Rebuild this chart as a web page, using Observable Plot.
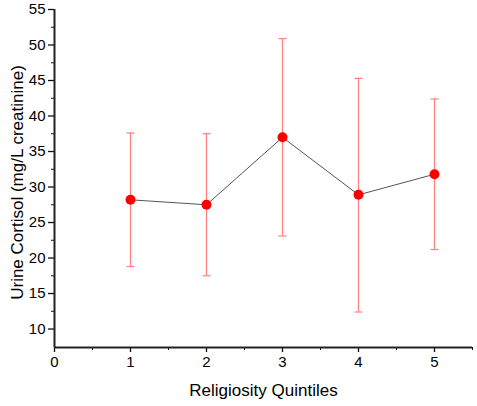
<!DOCTYPE html>
<html>
<head>
<meta charset="utf-8">
<script src="https://cdn.jsdelivr.net/npm/d3@7"></script>
<script src="https://cdn.jsdelivr.net/npm/@observablehq/plot@0.6"></script>
<style>
html,body{margin:0;padding:0;background:#fff;}
svg{display:block;}
</style>
</head>
<body>
<div id="chart"></div>
<script>
const quintiles = [1, 2, 3, 4, 5];
const cortisol = [28.2, 27.5, 37.0, 28.9, 31.8];
const upper = [37.6, 37.5, 50.9, 45.3, 42.4];
const lower = [18.8, 17.5, 23.1, 12.4, 21.2];
const xTicks = [0, 1, 2, 3, 4, 5];
const yTicks = [10, 15, 20, 25, 30, 35, 40, 45, 50, 55];
const xLabel = "Religiosity Quintiles";
const yLabel = "Urine Cortisol (mg/L creatinine)";

const data = quintiles.map((q, i) => ({q, v: cortisol[i], hi: upper[i], lo: lower[i]}));
const caps = data.flatMap(d => [{q: d.q, y: d.hi}, {q: d.q, y: d.lo}]);
const xMinor = d3.range(0.5, 5.51, 1);
const yMinor = d3.range(12.5, 55, 5);

const capSymbol = {
  draw(context, size) {
    const w = 4;
    context.moveTo(-w, 0);
    context.lineTo(w, 0);
  }
};

const font = "Liberation Sans, Arial, sans-serif";
const chart = Plot.plot({
  width: 477,
  height: 406,
  marginLeft: 54,
  marginRight: 5,
  marginTop: 9,
  marginBottom: 59,
  style: {fontFamily: font, fontSize: "15px", color: "#000", background: "#fff", overflow: "visible"},
  x: {type: "linear", domain: [0, 5.5]},
  y: {type: "linear", domain: [7.4, 55]},
  marks: [
    Plot.axisX(xTicks, {tickSize: 5, tickPadding: 4, fontSize: 15, label: null, stroke: "#111", strokeWidth: 1.3}),
    Plot.axisX(xMinor, {tickSize: 3, tickFormat: () => "", label: null, stroke: "#111"}),
    Plot.axisY(yTicks, {tickSize: 6, tickPadding: 3, fontSize: 15, label: null, stroke: "#111", strokeWidth: 1.3}),
    Plot.axisY(yMinor, {tickSize: 3, tickFormat: () => "", label: null, stroke: "#111"}),
    Plot.ruleY([7.4], {stroke: "#222", strokeWidth: 2}),
    Plot.ruleX([0], {stroke: "#222", strokeWidth: 2}),
    Plot.ruleX(data, {x: "q", y1: "lo", y2: "hi", stroke: "#ff7f7f", strokeWidth: 1.2}),
    Plot.dot(caps, {x: "q", y: "y", symbol: capSymbol, r: 4, fill: "none", stroke: "#ff7f7f", strokeWidth: 1.2}),
    Plot.line(data, {x: "q", y: "v", stroke: "#555", strokeWidth: 1}),
    Plot.dot(data, {x: "q", y: "v", r: 5, fill: "#ff0000", stroke: "none"}),
    Plot.text([xLabel], {frameAnchor: "bottom", dy: 48, fontSize: 17, fill: "#000"}),
    Plot.text([yLabel], {frameAnchor: "left", textAnchor: "middle", dx: -37, dy: 4, rotate: -90, fontSize: 17, fill: "#000"})
  ]
});

document.getElementById("chart").append(chart);
</script>
</body>
</html>
